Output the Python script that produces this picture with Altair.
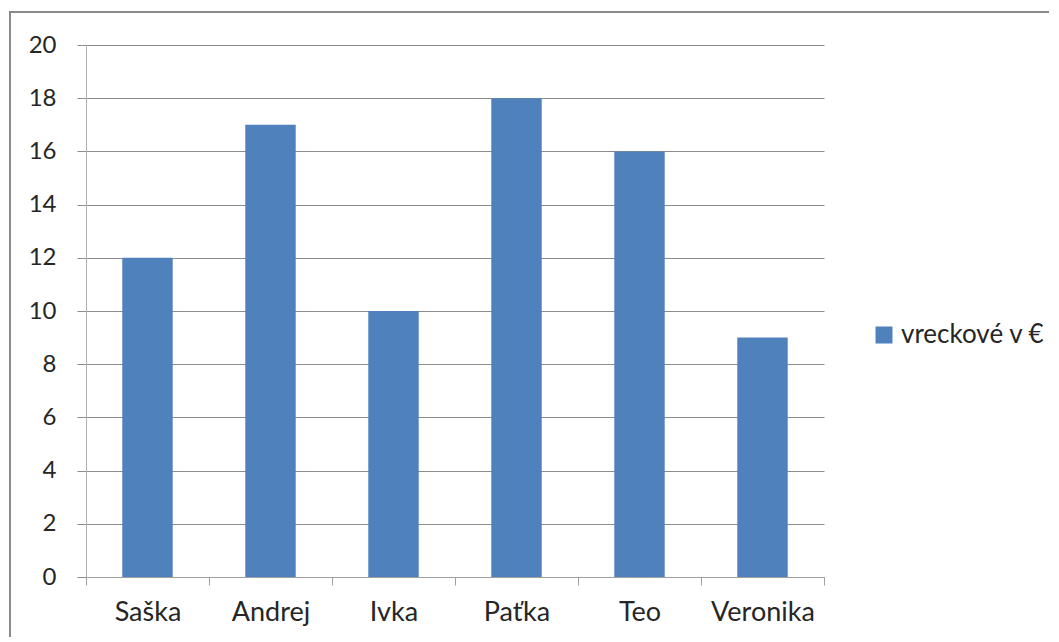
import altair as alt
import pandas as pd

names = ["Saška", "Andrej", "Ivka", "Paťka", "Teo", "Veronika"]
values = [12, 17, 10, 18, 16, 9]
series = "vreckové v €"
y_ticks = [0, 2, 4, 6, 8, 10, 12, 14, 16, 18, 20]

df = pd.DataFrame({"name": names, "value": values, "series": [series] * len(names)})

FONT = "Lato"
GRID = "#8c8c8c"
TXT = "#262626"

bars = alt.Chart(df).mark_bar(width=alt.RelativeBandSize(0.41), color="#4F81BD").encode(
    x=alt.X("name:N", sort=names, title=None,
            scale=alt.Scale(paddingInner=0, paddingOuter=0),
            axis=alt.Axis(tickBand="extent", labelAngle=0, labelFontSize=27, labelFont=FONT,
                          labelColor=TXT, labelPadding=14, tickSize=8, tickColor="#a0a0a0",
                          domainColor="#a0a0a0", grid=False)),
    y=alt.Y("value:Q", title=None,
            scale=alt.Scale(domain=[0, 20], nice=False),
            axis=alt.Axis(values=y_ticks, labelFontSize=24, labelFont=FONT, labelColor=TXT,
                          labelPadding=21, tickSize=9, tickColor=GRID, gridColor=GRID,
                          domainColor="#b0b0b0")),
    color=alt.Color("series:N", scale=alt.Scale(range=["#4F81BD"]),
                    legend=alt.Legend(title=None, orient="none", legendX=785, legendY=277,
                                      symbolType="square", symbolSize=289, symbolStrokeWidth=0,
                                      labelFontSize=26, labelFont=FONT, labelColor=TXT,
                                      labelOffset=4, labelLimit=300)),
)

frame = alt.Chart(pd.DataFrame({"f": [0]})).mark_rect(fill=None, stroke="#8a8a8a", strokeWidth=2).encode(
    x=alt.value(-76), x2=alt.value(1000), y=alt.value(-33), y2=alt.value(700)
)

chart = alt.layer(bars, frame).properties(
    width=738, height=532,
    autosize=alt.AutoSizeParams(type="none"),
    padding={"left": 78, "top": 37, "right": 225, "bottom": 60},
).configure_view(stroke=None)

chart.save("out.html", embed_options={"renderer": "svg", "actions": False})
